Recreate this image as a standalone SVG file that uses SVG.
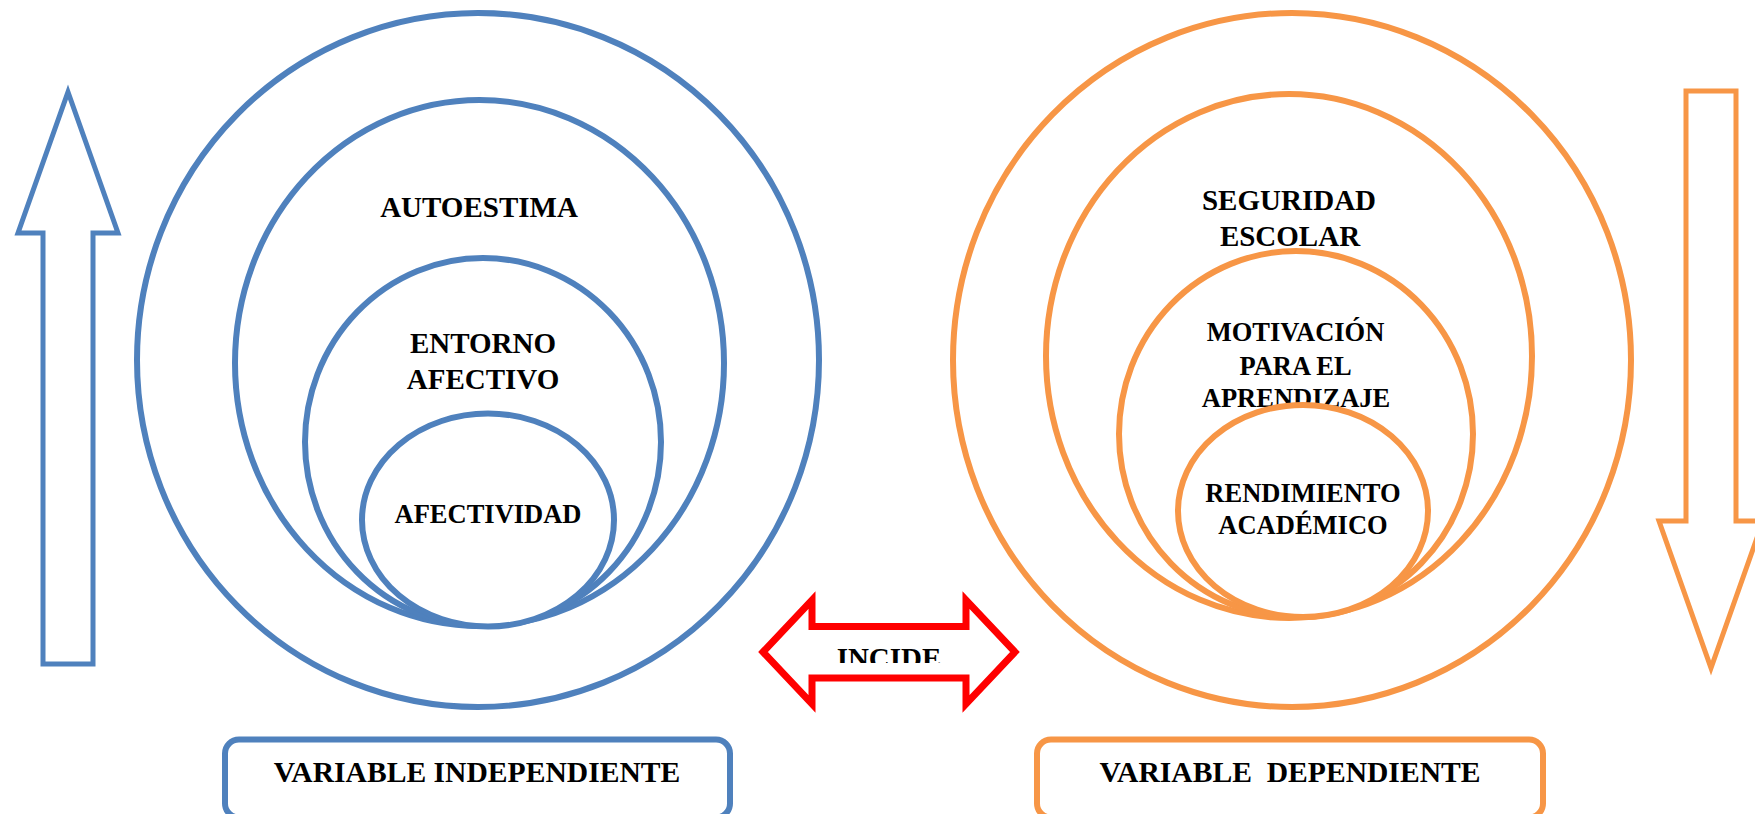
<svg xmlns="http://www.w3.org/2000/svg" width="1755" height="814" viewBox="0 0 1755 814">
<defs>
<style>
.b{fill:#fff;stroke:#4F81BD;stroke-width:6}
.o{fill:#fff;stroke:#F79646;stroke-width:6}
.ab{fill:#fff;stroke:#4F81BD;stroke-width:5;stroke-miterlimit:10}
.ao{fill:#fff;stroke:#F79646;stroke-width:5;stroke-miterlimit:10}
.r{fill:#fff;stroke:#FF0000;stroke-width:7;stroke-miterlimit:10}
text{font-family:"Liberation Serif","Times New Roman",serif;font-weight:bold;fill:#000;text-anchor:middle;font-size:29px;white-space:pre}
.s{font-size:26.5px}
.v{font-size:29.6px}
</style>
<clipPath id="cl"><rect x="820" y="630" width="140" height="33"/></clipPath>
</defs>
<rect width="1755" height="814" fill="#fff"/>
<g id="connectors">
<polygon id="up-arrow" class="ab" points="68,92 118,233 93,233 93,664 43,664 43,233 18,233"/>
<polygon id="down-arrow" class="ao" points="1686,91 1736,91 1736,521 1763,521 1711,668 1659,521 1686,521"/>
<g id="incide">
<polygon class="r" points="763,652 812,600 812,626.5 966,626.5 966,600 1015,652 966,704 966,678 812,678 812,704"/>
<text x="889" y="668" clip-path="url(#cl)">INCIDE</text>
</g>
</g>
<g id="left-group">
<ellipse id="left-outer" class="b" cx="478" cy="360" rx="341" ry="347"/>
<g id="autoestima">
<ellipse class="b" cx="479.5" cy="363" rx="244.5" ry="263"/>
<text x="479" y="217">AUTOESTIMA</text>
</g>
<g id="entorno">
<ellipse class="b" cx="483" cy="442" rx="178" ry="184"/>
<text x="483" y="353">ENTORNO</text>
<text x="483" y="389">AFECTIVO</text>
</g>
<g id="afectividad">
<ellipse class="b" cx="488" cy="520" rx="126" ry="106.5"/>
<text class="s" x="488" y="523">AFECTIVIDAD</text>
</g>
</g>
<g id="right-group">
<ellipse id="right-outer" class="o" cx="1292" cy="360" rx="339" ry="347"/>
<g id="seguridad">
<ellipse class="o" cx="1289" cy="356" rx="243" ry="262"/>
<text x="1289" y="210">SEGURIDAD</text>
<text x="1290" y="246">ESCOLAR</text>
</g>
<g id="motivacion">
<ellipse class="o" cx="1296" cy="434" rx="177" ry="183"/>
<text class="s" x="1295.5" y="341">MOTIVACIÓN</text>
<text class="s" x="1295.5" y="375">PARA EL</text>
<text class="s" x="1296" y="407">APRENDIZAJE</text>
</g>
<g id="rendimiento">
<ellipse class="o" cx="1303" cy="511" rx="125" ry="106"/>
<text class="s" x="1303" y="502">RENDIMIENTO</text>
<text class="s" x="1303" y="534">ACADÉMICO</text>
</g>
</g>
<g id="var-independiente">
<rect class="b" x="225" y="739.5" width="505" height="78" rx="14"/>
<text class="v" x="477" y="782">VARIABLE INDEPENDIENTE</text>
</g>
<g id="var-dependiente">
<rect class="o" x="1037" y="739.5" width="506" height="78" rx="14"/>
<text class="v" x="1290" y="782">VARIABLE  DEPENDIENTE</text>
</g>
</svg>
